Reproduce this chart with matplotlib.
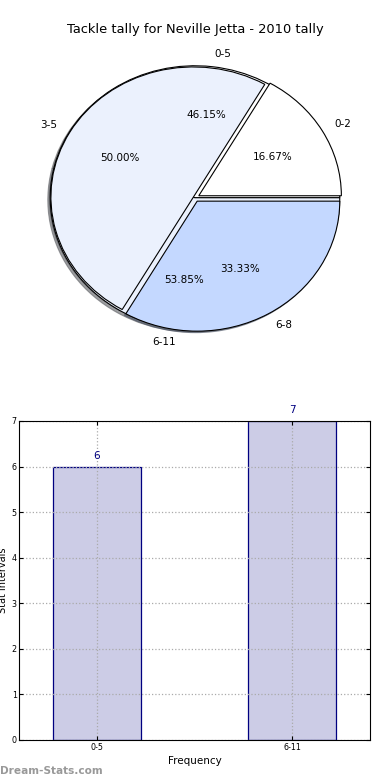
import matplotlib as mpl
mpl.use('Agg')
from matplotlib import pyplot as plt
import numpy as np

mpl.rcParams['font.family'] = ['DejaVu Sans']

# pie data: two overlaid pies
outer_labels = ['0-5', '6-11']
outer_values = [6, 7]
inner_labels = ['0-2', '3-5', '6-8']
inner_values = [1, 3, 2]

# bar data
bar_labels = ['0-5', '6-11']
bar_values = [6, 7]

fig = plt.figure(figsize=(3.9, 7.8), dpi=100)

ax1 = fig.add_axes([0.036, 0.535, 0.928, 0.423])
ax1.pie(outer_values, labels=outer_labels, colors=['white', '#ebf1fd'],
        autopct='%.2f%%', pctdistance=0.63, startangle=0,
        shadow=dict(ox=-0.012, oy=-0.012, shade=0.6, alpha=0.6),
        wedgeprops=dict(edgecolor='black', linewidth=0.8),
        textprops=dict(fontsize=7.5))
ax1.pie(inner_values, labels=inner_labels, colors=['white', '#ebf1fd', '#c4d8ff'],
        autopct='%.2f%%', explode=[0.03, 0.012, 0.03], radius=0.985, startangle=0,
        shadow=dict(ox=-0.008, oy=-0.008, shade=0.6, alpha=0.6),
        wedgeprops=dict(edgecolor='black', linewidth=0.8),
        textprops=dict(fontsize=7.5))
ax1.set_aspect('auto')
ax1.set_xlim(-1.25, 1.25)
ax1.set_ylim(-1.25, 1.25)
fig.text(0.5, 1 - 30 / 780, 'Tackle tally for Neville Jetta - 2010 tally',
         fontsize=9.4, ha='center', va='center')

ax2 = fig.add_axes([0.0487, 0.0513, 0.9, 0.409])
x = np.arange(len(bar_values))
bars = ax2.bar(x, bar_values, width=0.45, color='#ccccE6', edgecolor='#000080', linewidth=0.9)
for xi, v in zip(x, bar_values):
    ax2.text(xi, v + 0.12, str(v), ha='center', va='bottom', color='#000080', fontsize=7.5)
ax2.set_xlim(-0.4, 1.4)
ax2.set_ylim(0, 7)
ax2.set_xticks(x)
ax2.set_xticklabels(bar_labels)
ax2.set_yticks(range(0, 8))
ax2.tick_params(labelsize=5.8, direction='in', top=True, right=True, length=3, pad=2)
ax2.tick_params(axis='y', pad=1.5)
ax2.grid(True, linestyle=':', color='#aaaaaa', linewidth=0.9)
ax2.set_xlabel('Frequency', fontsize=7.5, labelpad=3)
ax2.set_ylabel('Stat intervals', fontsize=7)
ax2.yaxis.set_label_coords(-0.03, 0.5)

fig.text(0.0, 0.005, 'Dream-Stats.com', fontsize=7.6, color='#999999', fontweight='bold',
         ha='left', va='bottom')

fig.savefig('out.png', dpi=100)
